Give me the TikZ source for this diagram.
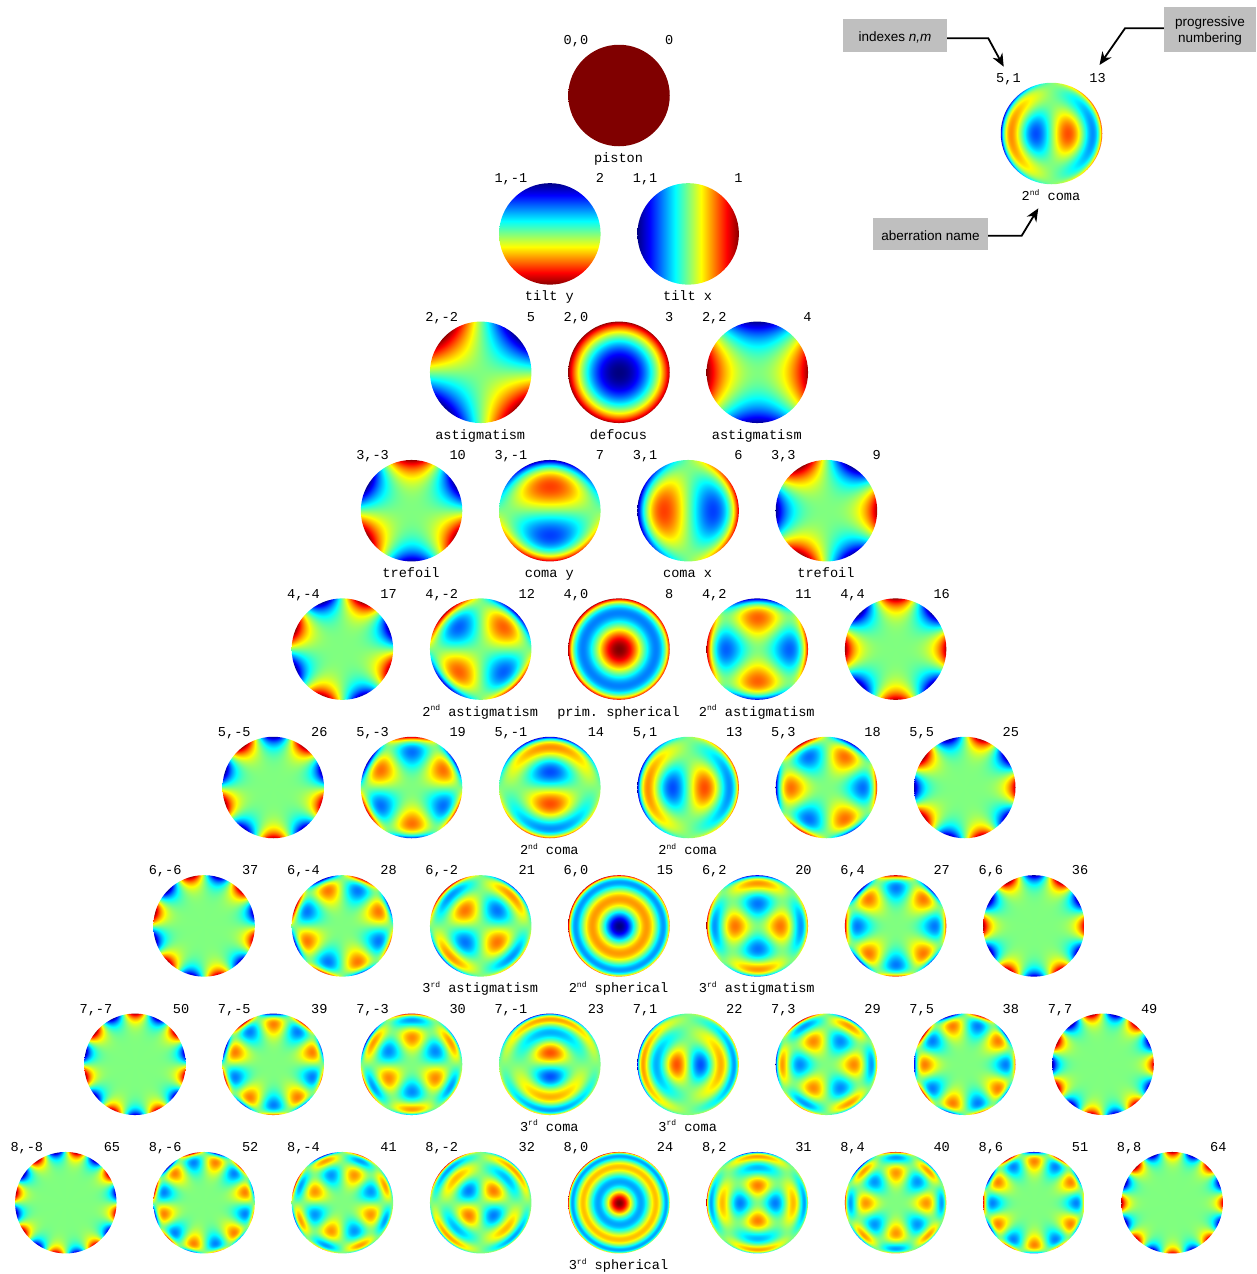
\documentclass[tikz,border=0pt]{standalone}
\usepackage{fontspec}
\setmainfont{Liberation Sans}
\setmonofont{Liberation Mono}
\usetikzlibrary{arrows.meta,calc}

% jet colour map, value in -1..1 on the stack
\def\jetmap{dup 2 mul 1 sub abs 1.5 exch sub exch dup 2 mul abs 1.5 exch sub exch 2 mul 1 add abs 1.5 exch sub}
% one more coefficient of the radial polynomial in r^2
\def\hs#1{ 1 index mul #1 add}
\newcommand\zshade[4]{%
  \pgfdeclarefunctionalshading{zern#1}{\pgfpointorigin}{\pgfpoint{100bp}{100bp}}{}{%
    50 sub -25.4 div exch 50 sub 25.4 div exch
    2 copy dup mul exch dup mul add sqrt
    3 1 roll exch atan
    #2 mul #3
    exch dup dup mul
    #4
    exch pop exch #2 exp mul mul
    \jetmap}}
\newcommand\zpair[3]{%
  \zshade{#1#2}{#2}{cos}{#3}%
  \zshade{#1-#2}{#2}{sin}{#3}}
\zpair{0}{0}{1}
\zpair{1}{1}{1}
\zpair{2}{0}{2 \hs{-1}}
\zpair{2}{2}{1}
\zpair{3}{1}{3 \hs{-2}}
\zpair{3}{3}{1}
\zpair{4}{0}{6 \hs{-6} \hs{1}}
\zpair{4}{2}{4 \hs{-3}}
\zpair{4}{4}{1}
\zpair{5}{1}{10 \hs{-12} \hs{3}}
\zpair{5}{3}{5 \hs{-4}}
\zpair{5}{5}{1}
\zpair{6}{0}{20 \hs{-30} \hs{12} \hs{-1}}
\zpair{6}{2}{15 \hs{-20} \hs{6}}
\zpair{6}{4}{6 \hs{-5}}
\zpair{6}{6}{1}
\zpair{7}{1}{35 \hs{-60} \hs{30} \hs{-4}}
\zpair{7}{3}{21 \hs{-30} \hs{10}}
\zpair{7}{5}{7 \hs{-6}}
\zpair{7}{7}{1}
\zpair{8}{0}{70 \hs{-140} \hs{90} \hs{-20} \hs{1}}
\zpair{8}{2}{56 \hs{-105} \hs{60} \hs{-10}}
\zpair{8}{4}{28 \hs{-42} \hs{15}}
\zpair{8}{6}{8 \hs{-7}}
\zpair{8}{8}{1}

\tikzset{
  zdisc/.style={circle,inner sep=0pt,minimum size=101.5pt},
  ztext/.style={font=\ttfamily\fontsize{13.6}{16}\selectfont,inner sep=0pt},
  graybox/.style={fill=black!25,inner sep=0pt,align=center,font=\fontsize{13.5}{16}\selectfont},
  pointer/.style={line width=1.8pt,-{Stealth[length=13pt,width=11pt]}}
}
\newcommand\sups[1]{\raisebox{0.4em}{\fontsize{8}{8}\selectfont#1}}
\newcommand\nd{2\sups{nd}}
\newcommand\rd{\sups{rd}}
\newcommand\boxpad{\rule{0pt}{13pt}}
% disc with its two top labels and the name below: id, x, y, n, m, number, name
\newcommand\zcell[7]{
  \node[zdisc,shading=zern#4#5] (d#1) at (#2,#3) {};
  \node[ztext,anchor=base west] (ij#1) at ($(#2,#3)+(-55.5,-51)$) {#4,#5};
  \node[ztext,anchor=base east] (no#1) at ($(#2,#3)+(54.5,-51)$) {#6};
  \node[ztext,anchor=base] (na#1) at ($(#2,#3)+(-0.5,67)$) {#7};
}

\begin{document}
\begin{tikzpicture}[x=1pt,y=-1pt]
  \useasboundingbox (0,0) rectangle (1256,1274);
  \foreach \n/\m/\k/\lbl in {
    0/0/0/piston,
    1/-1/2/tilt y,1/1/1/tilt x,
    2/-2/5/astigmatism,2/0/3/defocus,2/2/4/astigmatism,
    3/-3/10/trefoil,3/-1/7/coma y,3/1/6/coma x,3/3/9/trefoil,
    4/-4/17/,4/-2/12/\nd{} astigmatism,4/0/8/prim. spherical,4/2/11/\nd{} astigmatism,4/4/16/,
    5/-5/26/,5/-3/19/,5/-1/14/\nd{} coma,5/1/13/\nd{} coma,5/3/18/,5/5/25/,
    6/-6/37/,6/-4/28/,6/-2/21/3\rd{} astigmatism,6/0/15/\nd{} spherical,6/2/20/3\rd{} astigmatism,6/4/27/,6/6/36/,
    7/-7/50/,7/-5/39/,7/-3/30/,7/-1/23/3\rd{} coma,7/1/22/3\rd{} coma,7/3/29/,7/5/38/,7/7/49/,
    8/-8/65/,8/-6/52/,8/-4/41/,8/-2/32/,8/0/24/3\rd{} spherical,8/2/31/,8/4/40/,8/6/51/,8/8/64/}{
    \pgfmathsetmacro\xc{619+\m*69.15}
    \pgfmathsetmacro\yc{95.5+\n*138.4}
    \zcell{\k}{\xc}{\yc}{\n}{\m}{\k}{\lbl}
  }
  % legend at top right
  \zcell{L}{1051.5}{133.5}{5}{1}{13}{\nd{} coma}
  \node[graybox,minimum width=104pt,minimum height=33pt] (idx) at (895,35.5) {\boxpad indexes \textit{n,m}};
  \node[graybox,minimum width=92pt,minimum height=45pt] (prog) at (1210,29.5) {\boxpad progressive\\numbering};
  \node[graybox,minimum width=115pt,minimum height=32pt] (aber) at (930.5,234) {\boxpad aberration name};
  \coordinate (a1) at (1003.7,66.7);
  \coordinate (a2) at (1099.5,65);
  \coordinate (a3) at (1038.3,208.3);
  \draw[pointer] (idx.east |- 0,38.3) -- (988.3,38.3) -- (a1);
  \draw[pointer] (prog.west |- 0,28.3) -- (1125,28.3) -- (a2);
  \draw[pointer] (aber.east |- 0,235.7) -- (1021.7,235.7) -- (a3);
\end{tikzpicture}
\end{document}
